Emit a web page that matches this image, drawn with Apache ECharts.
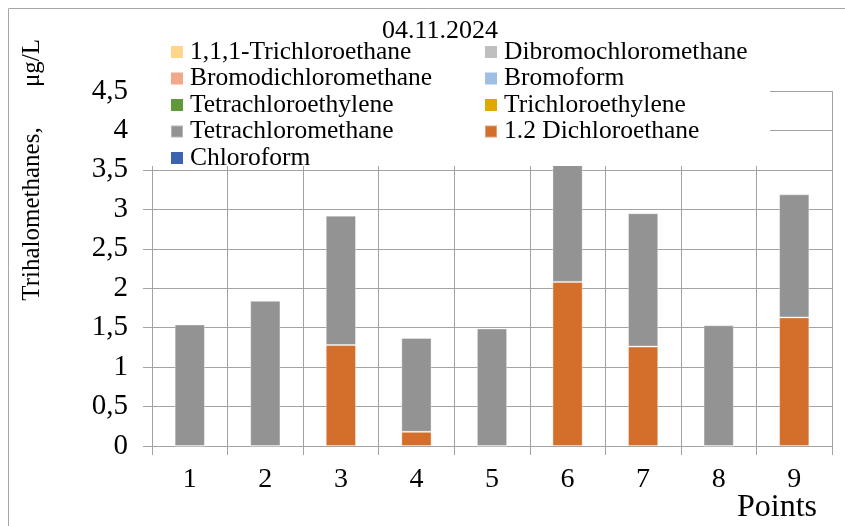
<!DOCTYPE html>
<html>
<head>
<meta charset="utf-8">
<script src="https://cdn.jsdelivr.net/npm/echarts@6/dist/echarts.min.js"></script>
<style>
  html, body { margin: 0; padding: 0; background: #ffffff; }
  #chart { width: 845px; height: 526px; }
</style>
</head>
<body>
<div id="chart"></div>
<script>
// Sampling points on the x axis
var points = ['1', '2', '3', '4', '5', '6', '7', '8', '9'];

// Concentrations per point, µg/L (stacked from the bottom up)
var dichloroethane12   = [0, 0, 1.28, 0.18, 0, 2.08, 1.26, 0, 1.63];
var tetrachloromethane = [1.54, 1.84, 1.64, 1.19, 1.49, 1.49, 1.69, 1.53, 1.56];
var trichloroethane111 = [0, 0, 0, 0, 0, 0, 0, 0, 0];
var dibromochloromethane = [0, 0, 0, 0, 0, 0, 0, 0, 0];
var bromodichloromethane = [0, 0, 0, 0, 0, 0, 0, 0, 0];
var bromoform          = [0, 0, 0, 0, 0, 0, 0, 0, 0];
var tetrachloroethylene = [0, 0, 0, 0, 0, 0, 0, 0, 0];
var trichloroethylene  = [0, 0, 0, 0, 0, 0, 0, 0, 0];
var chloroform         = [0, 0, 0, 0, 0, 0, 0, 0, 0];

// Value axis tick labels (decimal comma)
var yTickLabels = ['0', '0,5', '1', '1,5', '2', '2,5', '3', '3,5', '4', '4,5'];

// Legend columns
var legendLeft  = ['1,1,1-Trichloroethane', 'Bromodichloromethane', 'Tetrachloroethylene', 'Tetrachloromethane', 'Chloroform'];
var legendRight = ['Dibromochloromethane', 'Bromoform', 'Trichloroethylene', '1.2 Dichloroethane'];

var FONT = "'Liberation Serif', 'Times New Roman', serif";
var GRID_COLOR = '#a3a3a3';

function zeroSeries(name, data, color) {
  return {
    name: name, type: 'bar', stack: 'total', data: data,
    barWidth: '40%', itemStyle: { color: color }
  };
}

var chart = echarts.init(document.getElementById('chart'), null, { renderer: 'canvas' });

var legendCommon = {
  orient: 'vertical',
  top: 39,
  icon: 'rect',
  itemWidth: 12,
  itemHeight: 12,
  itemGap: 0.5,
  selectedMode: false,
  padding: 0,
  textStyle: { fontFamily: FONT, fontSize: 25.5, color: '#000', lineHeight: 25, height: 25, padding: [0, 0, 0, 2] }
};

chart.setOption({
  animation: false,
  backgroundColor: '#ffffff',
  grid: { left: 152, right: 13, top: 91, bottom: 80, containLabel: false },
  legend: [
    Object.assign({}, legendCommon, { left: 170, data: legendLeft }),
    Object.assign({}, legendCommon, { left: 484, data: legendRight })
  ],
  xAxis: {
    type: 'category',
    data: points,
    boundaryGap: true,
    axisLine: { show: true, lineStyle: { color: GRID_COLOR, width: 1 } },
    axisTick: { show: true, length: 9, lineStyle: { color: GRID_COLOR } },
    splitLine: { show: true, lineStyle: { color: GRID_COLOR, width: 1 } },
    axisLabel: { fontFamily: FONT, fontSize: 28, color: '#000', margin: 20 }
  },
  yAxis: {
    type: 'value',
    min: 0, max: 4.5, interval: 0.5,
    axisLine: { show: true, lineStyle: { color: GRID_COLOR, width: 1 } },
    axisTick: { show: true, length: 9, lineStyle: { color: GRID_COLOR } },
    splitLine: { show: true, lineStyle: { color: GRID_COLOR, width: 1 } },
    axisLabel: {
      fontFamily: FONT, fontSize: 29, color: '#000', margin: 24,
      formatter: function (v) { return yTickLabels[Math.round(v / 0.5)]; }
    }
  },
  series: [
    {
      name: '1.2 Dichloroethane', type: 'bar', stack: 'total', data: dichloroethane12,
      barWidth: '40%',
      itemStyle: { color: '#d46f2b', borderColor: 'rgba(255,255,255,0.35)', borderWidth: 1 }
    },
    {
      name: 'Tetrachloromethane', type: 'bar', stack: 'total', data: tetrachloromethane,
      barWidth: '40%',
      itemStyle: { color: '#939393', borderColor: 'rgba(255,255,255,0.35)', borderWidth: 1 }
    },
    zeroSeries('1,1,1-Trichloroethane', trichloroethane111, '#ffd58a'),
    zeroSeries('Dibromochloromethane', dibromochloromethane, '#bfbfbf'),
    zeroSeries('Bromodichloromethane', bromodichloromethane, '#f2a88a'),
    zeroSeries('Bromoform', bromoform, '#9dc0e4'),
    zeroSeries('Tetrachloroethylene', tetrachloroethylene, '#5e9a3c'),
    zeroSeries('Trichloroethylene', trichloroethylene, '#e1a800'),
    zeroSeries('Chloroform', chloroform, '#3a64af')
  ],
  graphic: [
    // outer chart frame
    { type: 'rect', z: 0, silent: true,
      shape: { x: 8.5, y: 8.5, width: 900, height: 600 },
      style: { fill: null, stroke: '#a6a6a6', lineWidth: 1 } },
    // white legend panel laid over the upper plot area
    { type: 'rect', z: 3, silent: true,
      shape: { x: 135, y: 36, width: 635, height: 130 },
      style: { fill: '#ffffff' } },
    // title
    { type: 'text', z: 5, silent: true, x: 440, y: 31,
      style: { text: '04.11.2024', font: '26px ' + FONT, fill: '#000', textAlign: 'center', textVerticalAlign: 'middle' } },
    // value axis title
    { type: 'text', z: 5, silent: true, x: 32, y: 214, rotation: Math.PI / 2,
      style: { text: 'Trihalomethanes,', font: '25px ' + FONT, fill: '#000', textAlign: 'center', textVerticalAlign: 'middle' } },
    { type: 'text', z: 5, silent: true, x: 32, y: 63, rotation: Math.PI / 2,
      style: { text: 'μg/L', font: '25px ' + FONT, fill: '#000', textAlign: 'center', textVerticalAlign: 'middle' } },
    // category axis title
    { type: 'text', z: 5, silent: true, x: 777, y: 508,
      style: { text: 'Points', font: '32px ' + FONT, fill: '#000', textAlign: 'center', textVerticalAlign: 'middle' } }
  ]
});
</script>
</body>
</html>
